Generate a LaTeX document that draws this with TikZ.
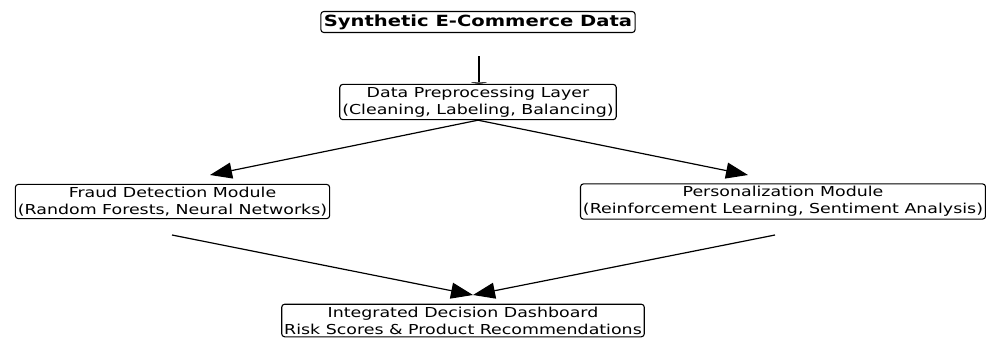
\documentclass[tikz,border=0pt]{standalone}
\usepackage{fontspec}
\setmainfont{DejaVu Sans}[FakeStretch=1.27]
\usetikzlibrary{arrows.meta}

\begin{document}
\begin{tikzpicture}[x=1pt,y=-1pt,
  box/.style={draw,rounded corners=3pt,line width=1.1pt,align=center,inner sep=2.5pt,
    font=\fontsize{13.7}{17}\selectfont},
  flow/.style={line width=1.2pt,-{Triangle[length=22pt,width=16pt]}}]
  \useasboundingbox (0,0) rectangle (986,341);

  \node[box,inner sep=3pt,font=\fontsize{15.4}{18}\selectfont\bfseries] (src) at (478,22) {Synthetic E-Commerce Data};
  \node[box] (prep) at (478,102) {Data Preprocessing Layer\\(Cleaning, Labeling, Balancing)};
  \node[box] (fraud) at (172.5,201.5) {Fraud Detection Module\\(Random Forests, Neural Networks)};
  \node[box] (pers) at (783,201.5) {Personalization Module\\(Reinforcement Learning, Sentiment Analysis)};
  \node[box] (dash) at (463,320.5) {Integrated Decision Dashboard\\Risk Scores \& Product Recommendations};

  \coordinate (srcout) at (479,56);
  \coordinate (fraudin) at (210,175);
  \coordinate (persin) at (748,175);
  \coordinate (fraudout) at (172,235);
  \coordinate (persout) at (775,235);
  \coordinate (dashin) at (473,295);

  \draw[line width=1.2pt,-{Triangle[length=1.5pt,width=20pt]}] (srcout) -- (prep.north -| srcout);
  \draw[flow] (prep.south) -- (fraudin);
  \draw[flow] (prep.south) -- (persin);
  \draw[flow] (fraudout) -- (dashin);
  \draw[flow] (persout) -- (dashin);
\end{tikzpicture}
\end{document}
